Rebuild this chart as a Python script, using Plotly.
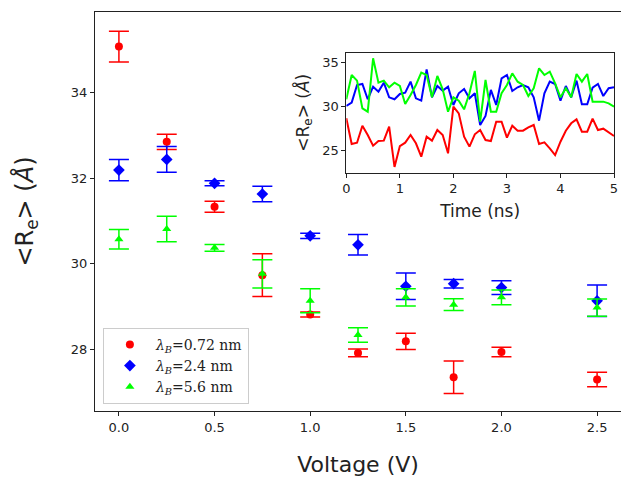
import plotly.graph_objects as go

voltage = [0.0, 0.25, 0.5, 0.75, 1.0, 1.25, 1.5, 1.75, 2.0, 2.5]

re_072 = [35.08, 32.85, 31.33, 29.73, 28.81, 27.91, 28.18, 27.34, 27.93, 27.29]
err_072 = [0.36, 0.18, 0.13, 0.50, 0.06, 0.09, 0.19, 0.38, 0.11, 0.17]

re_24 = [32.19, 32.44, 31.88, 31.63, 30.65, 30.44, 29.47, 29.53, 29.44, 29.13]
err_24 = [0.25, 0.30, 0.06, 0.18, 0.06, 0.24, 0.31, 0.10, 0.16, 0.37]

re_56 = [30.57, 30.81, 30.37, 29.76, 29.13, 28.33, 29.21, 29.04, 29.21, 28.97]
err_56 = [0.23, 0.30, 0.08, 0.33, 0.28, 0.17, 0.20, 0.14, 0.17, 0.20]

time_ns = [i / 10 for i in range(51)]
ts_072 = [28.64, 25.72, 25.87, 27.8, 26.74, 25.53, 26.06, 26.1, 27.69, 23.11,
          25.49, 25.87, 26.74, 25.8, 24.28, 26.55, 26.1, 27.31, 26.74, 24.66,
          29.96, 29.2, 26.55, 25.42, 26.82, 27.31, 26.17, 26.06, 28.26, 28.26,
          26.44, 27.8, 27.23, 27.23, 27.61, 27.88, 25.72, 25.91, 25.23, 24.47,
          25.98, 27.23, 28.07, 28.52, 27.12, 27.12, 28.6, 27.31, 27.46, 27.08, 26.63]
ts_24 = [30.04, 30.42, 32.42, 32.54, 30.8, 32.23, 31.67, 32.69, 31.02, 30.8,
         31.4, 31.55, 32.8, 30.91, 30.64, 34.2, 31.02, 32.31, 31.78, 32.23,
         30.15, 31.48, 31.97, 30.91, 31.48, 27.88, 28.9, 31.86, 30.15, 33.18,
         33.56, 31.74, 32.16, 32.42, 32.16, 31.02, 28.37, 31.48, 32.8, 32.54,
         30.64, 32.31, 31.02, 32.92, 30.23, 30.23, 32.12, 32.54, 31.17, 32.05, 32.16]
ts_56 = [30.8, 33.56, 32.92, 29.77, 29.39, 35.45, 32.69, 32.92, 32.16, 32.69,
         32.31, 30.27, 31.29, 32.42, 33.83, 33.56, 31.02, 33.45, 31.93, 29.39,
         31.02, 30.64, 29.66, 31.48, 34.02, 28.26, 32.99, 29.39, 29.39, 31.48,
         32.42, 33.75, 32.8, 32.42, 31.17, 32.05, 34.32, 33.56, 33.94, 32.61,
         31.02, 32.05, 31.02, 33.67, 32.8, 33.67, 30.53, 30.53, 30.53, 30.34, 29.96]

series = [
    ("<i>λ</i><sub><i>B</i></sub>=0.72 nm", re_072, err_072, "#ff0000", "circle", 8),
    ("<i>λ</i><sub><i>B</i></sub>=2.4 nm", re_24, err_24, "#0000ff", "diamond", 9),
    ("<i>λ</i><sub><i>B</i></sub>=5.6 nm", re_56, err_56, "#00ff00", "triangle-up", 8),
]

fig = go.Figure()
for name, y, e, c, sym, sz in series:
    fig.add_trace(go.Scatter(
        x=voltage, y=y, mode="markers", name=name,
        marker=dict(color=c, symbol=sym, size=sz, line=dict(width=0)),
        error_y=dict(type="data", array=e, visible=True, color=c, thickness=1.5, width=10),
        xaxis="x", yaxis="y",
    ))

for ts, c in [(ts_072, "#ff0000"), (ts_24, "#0000ff"), (ts_56, "#00ff00")]:
    fig.add_trace(go.Scatter(
        x=time_ns, y=ts, mode="lines", showlegend=False,
        line=dict(color=c, width=2), xaxis="x2", yaxis="y2",
    ))


def ax(**kw):
    d = dict(
        showline=True, linecolor="#222", linewidth=1, mirror=True,
        ticks="outside", ticklen=4, tickcolor="#222", showgrid=False, zeroline=False,
        tickfont=dict(family="DejaVu Sans", size=13, color="#222"),
    )
    d.update(kw)
    return d


fig.update_layout(
    width=621, height=477,
    margin=dict(l=95, r=0, t=12, b=66, autoexpand=False),
    paper_bgcolor="white", plot_bgcolor="white",
    font=dict(family="DejaVu Sans", color="#222"),
    xaxis=ax(domain=[0, 1], range=[-0.125, 2.625],
             tickvals=[0, 0.5, 1.0, 1.5, 2.0, 2.5],
             ticktext=["0.0", "0.5", "1.0", "1.5", "2.0", "2.5"],
             title=dict(text="Voltage (V)", font=dict(size=22, family="DejaVu Sans"), standoff=23)),
    yaxis=ax(domain=[0, 1], range=[26.55, 35.89], mirror=False,
             tickvals=[28, 30, 32, 34],
             title=dict(text="&lt;R<sub>e</sub>&gt; (<i>Å</i>)", font=dict(size=24, family="DejaVu Sans"), standoff=30)),
    xaxis2=ax(domain=[0.4778, 0.9867], range=[0, 5], anchor="y2",
              tickvals=[0, 1, 2, 3, 4, 5],
              title=dict(text="Time (ns)", font=dict(size=17, family="DejaVu Sans"), standoff=9)),
    yaxis2=ax(domain=[0.597, 0.898], range=[22.45, 36.09], anchor="x2",
              tickvals=[25, 30, 35],
              title=dict(text="&lt;R<sub>e</sub>&gt; (<i>Å</i>)", font=dict(size=17, family="DejaVu Sans"), standoff=8)),
    legend=dict(x=0.015, y=0.018, xanchor="left", yanchor="bottom",
                bgcolor="white", bordercolor="#cccccc", borderwidth=1,
                font=dict(family="DejaVu Serif", size=14, color="#222"),
                tracegroupgap=0, itemwidth=42),
)

fig.write_html("out.html")
